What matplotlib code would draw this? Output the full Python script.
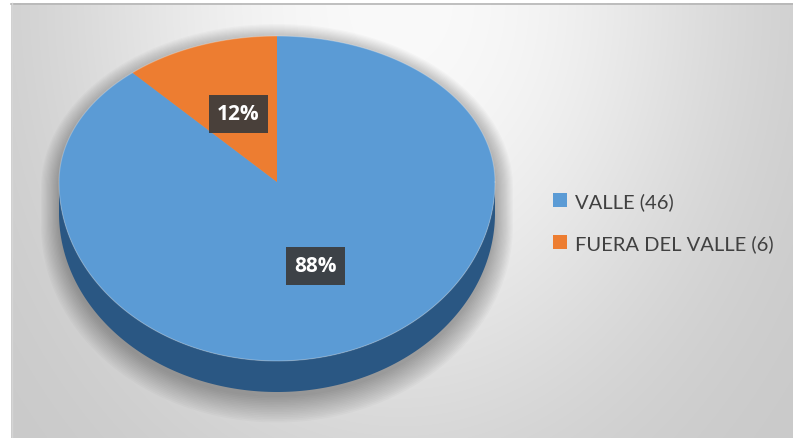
import numpy as np
import matplotlib
matplotlib.use('Agg')
import matplotlib.pyplot as plt
from matplotlib.patches import Patch

# data
categories = ['VALLE', 'FUERA DEL VALLE']
counts = [46, 6]
colors = ['#5b9bd5', '#ed7d31']
side_colors = ['#2a5783', '#b35a1f']

W, H = 793, 439
plt.rcParams['font.family'] = ['Lato', 'DejaVu Sans']

fig = plt.figure(figsize=(W / 100, H / 100), dpi=100)
ax = fig.add_axes([0, 0, 1, 1])
ax.set_xlim(0, W)
ax.set_ylim(H, 0)
ax.axis('off')

# background (soft radial gradient inside frame)
fx0, fy0, fx1, fy1 = 11, 4, W, H
xx, yy = np.meshgrid(np.arange(fx0, fx1), np.arange(fy0, fy1))
q = 2.9e-4 * (xx - 400) ** 2 + 1.74e-4 * yy ** 2
v = (250 - 50 * np.tanh(q / 40)) / 255
bg = np.dstack([v, v, v])
ax.imshow(bg, extent=(fx0, fx1, fy1, fy0), zorder=0, interpolation='bilinear')
ax.plot([fx0, fx1], [fy0 + 0.5, fy0 + 0.5], color='#b5b5b5', lw=1.2, zorder=1)
ax.plot([fx0 + 0.5, fx0 + 0.5], [fy0, fy1], color='#d5d5d5', lw=1.0, zorder=1)

# pie geometry (simple perspective: front half taller than back half)
cx, cy = 277, 183
rx, ry_back, ry_front = 218, 146, 179
depth = 31


def proj(theta, dz=0.0, grow=0.0):
    theta = np.asarray(theta, dtype=float)
    s = np.sin(theta)
    ry = np.where(s >= 0, ry_back, ry_front) + grow
    x = cx + (rx + grow) * np.cos(theta)
    y = cy - ry * s + dz
    return x, y


# shadow under the pie
for i in range(16):
    t1 = np.linspace(0, np.pi, 100)
    t2 = np.linspace(np.pi, 2 * np.pi, 100)
    x1, y1 = proj(t1, dz=6, grow=i * 1.2)
    x2, y2 = proj(t2, dz=depth + 5 + i * 0.5, grow=i * 1.2)
    ax.fill(np.r_[x1, x2], np.r_[y1, y2], color='#000000', alpha=0.02, lw=0, zorder=2)

# slice angles, starting at 12 o'clock, going clockwise
total = sum(counts)
fracs = [c / total for c in counts]
starts = []
a = np.pi / 2
for f in fracs:
    starts.append((a, a - 2 * np.pi * f))
    a -= 2 * np.pi * f

# side wall (only the front, lower half is visible)
for (a0, a1), col in zip(starts, side_colors):
    lo, hi = min(a0, a1), max(a0, a1)
    for k in range(-2, 2):
        s0 = max(lo, -np.pi + 2 * np.pi * k)
        s1 = min(hi, 0 + 2 * np.pi * k)
        if s1 > s0:
            t = np.linspace(s0, s1, 200)
            xt, yt = proj(t)
            xb, yb = proj(t[::-1], dz=depth)
            ax.fill(np.r_[xt, xb], np.r_[yt, yb], color=col, lw=0, zorder=3)

# top faces
for (a0, a1), col in zip(starts, colors):
    t = np.linspace(a0, a1, 300)
    xt, yt = proj(t)
    ax.fill(np.r_[cx, xt], np.r_[cy, yt], color=col, lw=0, zorder=4)

# faint rim light
t = np.linspace(0, 2 * np.pi, 400)
xr, yr = proj(t)
ax.plot(xr, yr, color='white', lw=0.8, alpha=0.25, zorder=5)

# percentage labels at half radius along each bisector
for (a0, a1), c in zip(starts, counts):
    mid = (a0 + a1) / 2
    s = np.sin(mid)
    ry = ry_back if s >= 0 else ry_front
    lx = cx + 0.5 * rx * np.cos(mid)
    ly = cy - 0.5 * ry * s
    ax.text(lx, ly, '{:.0f}%'.format(100 * c / total), ha='center', va='center',
            fontsize=15, fontweight='bold', color='white', zorder=6,
            family=['Open Sans', 'DejaVu Sans'],
            bbox=dict(boxstyle='square,pad=0.4', fc='#3b3b3b', ec='none', alpha=0.92))

# legend
handles = [Patch(facecolor=col, edgecolor='none') for col in colors]
labels = ['{} ({})'.format(n, c) for n, c in zip(categories, counts)]
ax.legend(handles, labels, loc='center left', bbox_to_anchor=(553 / W, 1 - 223 / H),
          frameon=False, fontsize=14.5, labelcolor='#404040', handlelength=0.7,
          handleheight=0.7, handletextpad=0.4, labelspacing=1.2, borderpad=0,
          borderaxespad=0)

fig.savefig('out.png', dpi=100)
